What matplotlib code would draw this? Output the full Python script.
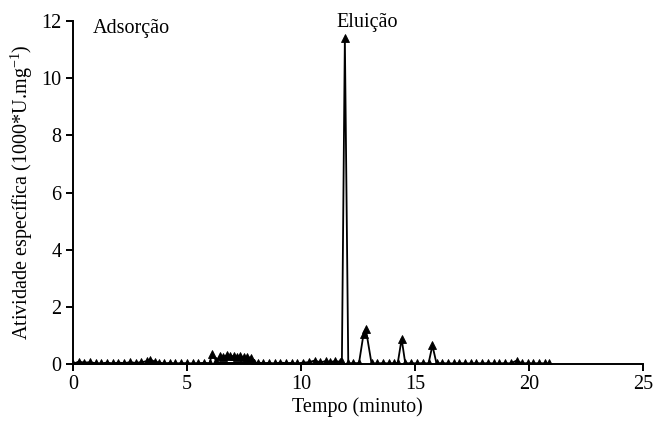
import matplotlib
matplotlib.use("Agg")
from matplotlib import pyplot as plt

# time (min) and specific activity (1000*U/mg)
tempo = [0.0, 0.25, 0.5, 0.75, 1.0, 1.25, 1.5, 1.75, 2.0, 2.25, 2.5, 2.75, 3.0, 3.25, 3.4,
         3.6, 3.8, 4.0, 4.25, 4.5, 4.75, 5.0, 5.25, 5.5, 5.75, 6.0, 6.1, 6.3, 6.45,
         6.6, 6.75, 6.9, 7.05, 7.2, 7.35, 7.5, 7.65, 7.8, 7.95, 6.3, 7.95,
         8.1, 8.35, 8.6, 8.85, 9.1, 9.35, 9.6, 9.85, 10.1, 10.35, 10.6, 10.85, 11.1,
         11.3, 11.5, 11.7, 11.8, 11.93, 12.08, 12.3, 12.55, 12.75, 12.85, 13.1,
         13.35, 13.6, 13.85, 14.1, 14.25, 14.42, 14.58, 14.85, 15.1, 15.35, 15.6, 15.77,
         15.95, 16.2, 16.45, 16.7, 16.95, 17.2, 17.45, 17.7, 17.95, 18.2, 18.45,
         18.7, 18.95, 19.2, 19.47, 19.7, 19.95, 20.2, 20.45, 20.7, 20.9]
atividade = [0.0, 0.08, 0.05, 0.06, 0.03, 0.02, 0.05, 0.02, 0.05, 0.03, 0.06, 0.04, 0.06, 0.1, 0.15,
             0.08, 0.05, 0.02, 0.04, 0.02, 0.03, 0.03, 0.02, 0.03, 0.04, 0.03, 0.35, 0.1, 0.27,
             0.25, 0.3, 0.28, 0.27, 0.26, 0.27, 0.24, 0.24, 0.22, 0.03, 0.02, 0.03,
             0.05, 0.03, 0.04, 0.02, 0.05, 0.03, 0.04, 0.02, 0.05, 0.06, 0.12, 0.06, 0.1,
             0.07, 0.1, 0.08, 0.08, 11.4, 0.02, 0.03, 0.03, 1.05, 1.22, 0.02,
             0.02, 0.03, 0.02, 0.03, 0.03, 0.88, 0.02, 0.03, 0.02, 0.03, 0.02, 0.65,
             0.02, 0.03, 0.02, 0.02, 0.03, 0.02, 0.02, 0.03, 0.02, 0.03, 0.02,
             0.02, 0.03, 0.02, 0.12, 0.02, 0.03, 0.02, 0.03, 0.02, 0.02]

x_ticks = [0, 5, 10, 15, 20, 25]
y_ticks = [0, 2, 4, 6, 8, 10, 12]

plt.rcParams["font.family"] = ["Liberation Serif", "DejaVu Serif"]
plt.rcParams["mathtext.fontset"] = "custom"
plt.rcParams["mathtext.rm"] = "Liberation Serif"
plt.rcParams["font.size"] = 14.5

fig = plt.figure(figsize=(6.56, 4.23), dpi=100)
ax = fig.add_axes([0.111, 0.1395, 0.869, 0.8105])

ax.plot(tempo, atividade, color="black", linewidth=1.3, marker="^",
        markersize=6, markeredgewidth=0.6)

ax.set_xlim(0, 25)
ax.set_ylim(0, 12)
ax.set_xticks(x_ticks)
ax.set_yticks(y_ticks)
ax.spines["top"].set_visible(False)
ax.spines["right"].set_visible(False)
for s in ("left", "bottom"):
    ax.spines[s].set_linewidth(1.4)
ax.tick_params(direction="out", length=5, width=1.4, pad=3)

ax.set_xlabel("Tempo (minuto)", labelpad=2)
ax.set_ylabel(r"Atividade específica (1000*U.mg$^{\mathregular{-1}}$)", labelpad=5)

ax.text(0.88, 11.75, "Adsorção", ha="left", va="center")
ax.text(12.9, 11.95, "Eluição", ha="center", va="center")

plt.savefig("out.png", dpi=100)
